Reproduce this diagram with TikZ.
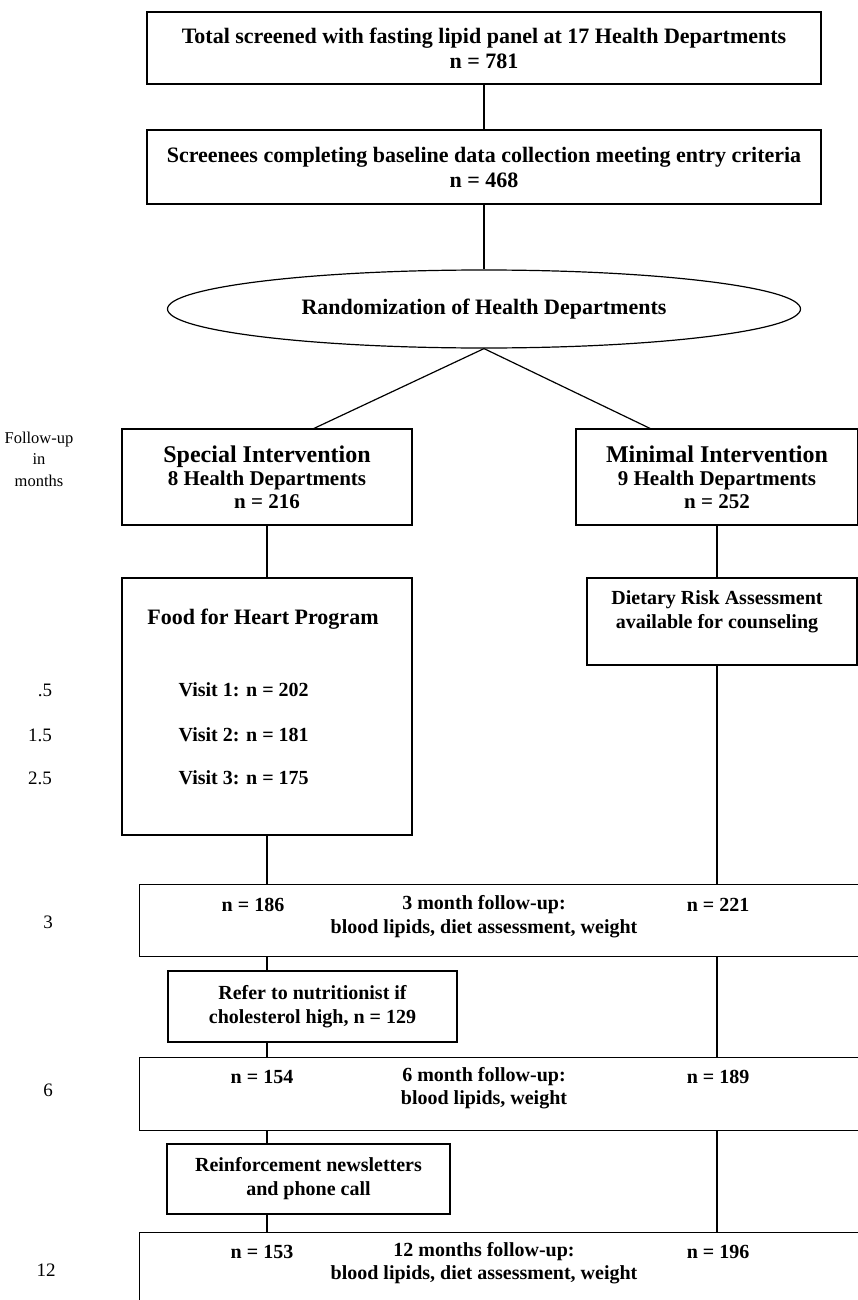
\documentclass[tikz,border=0pt]{standalone}
\usepackage{fontspec}
\setmainfont{Liberation Serif}
\usetikzlibrary{shapes.geometric}
\newcommand{\txtsz}{\fontsize{20}{24}\selectfont}
\newcommand{\topsz}{\fontsize{22}{25}\selectfont}
\newcommand{\subsz}{\fontsize{21}{23}\selectfont}
\newcommand{\bigsz}{\fontsize{24}{27}\selectfont}
\newcommand{\monsz}{\fontsize{19}{21.5}\selectfont}

\begin{document}
\begin{tikzpicture}[x=1pt,y=-1pt,line width=1.2pt,
    box/.style={draw, font=\txtsz\bfseries, align=center, inner sep=0pt},
    lbl/.style={font=\txtsz\bfseries, align=center, inner sep=0pt},
    mon/.style={font=\monsz, align=center, inner sep=0pt}]
    \clip (0,0) rectangle (858,1300);

    \node[box, font=\topsz\bfseries, minimum width=674pt, minimum height=72pt] (total) at (484,48)
        {Total screened with fasting lipid panel at 17 Health Departments\\n = 781};
    \node[box, font=\topsz\bfseries, minimum width=674pt, minimum height=74pt] (screen) at (484,167)
        {Screenees completing baseline data collection meeting entry criteria\\n = 468};
    \node[box, font=\topsz\bfseries, ellipse, minimum width=633pt, minimum height=78pt] (rand) at (484,309)
        {Randomization of Health Departments};

    \node[box, font=\subsz\bfseries, minimum width=290pt, minimum height=96pt] (special) at (267,477)
        {{\bigsz Special Intervention}\\8 Health Departments\\n = 216};
    \node[box, font=\subsz\bfseries, minimum width=282pt, minimum height=96pt] (minimal) at (717,477)
        {{\bigsz Minimal Intervention}\\9 Health Departments\\n = 252};

    % food for heart
    \node[box, minimum width=290pt, minimum height=257pt] (food) at (267,706.5) {};
    \node[lbl, font=\fontsize{22}{26}\selectfont\bfseries] (foodttl) at (263,619) {Food for Heart Program};
    \node[lbl, anchor=west] (visit1) at (178,690) {Visit 1: n = 202};
    \node[lbl, anchor=west] (visit2) at (178,735) {Visit 2: n = 181};
    \node[lbl, anchor=west] (visit3) at (178,778) {Visit 3: n = 175};

    \node[box, minimum width=270pt, minimum height=87pt] (diet) at (722,621.5) {};
    \node[lbl] (diettxt) at (717,612) {Dietary Risk Assessment\\available for counseling};

    % follow-up boxes
    \node[box, minimum width=761pt, minimum height=72pt, anchor=north west] (fu3) at (139,884) {};
    \node[lbl] (fu3a) at (253,905) {n = 186};
    \node[lbl] (fu3b) at (484,905) {3 month follow-up:};
    \node[lbl] (fu3c) at (718,905) {n = 221};
    \node[lbl] (fu3d) at (484,929) {blood lipids, diet assessment, weight};

    \node[box, minimum width=289pt, minimum height=71pt] (refer) at (312.5,1006.5)
        {Refer to nutritionist if\\cholesterol high, n = 129};

    \node[box, minimum width=761pt, minimum height=73pt, anchor=north west] (fu6) at (139,1057) {};
    \node[lbl] (fu6a) at (262,1077) {n = 154};
    \node[lbl] (fu6b) at (484,1077) {6 month follow-up:};
    \node[lbl] (fu6c) at (718,1077) {n = 189};
    \node[lbl] (fu6d) at (484,1100) {blood lipids, weight};

    \node[box, minimum width=283pt, minimum height=70pt] (reinf) at (308.5,1179)
        {Reinforcement newsletters\\and phone call};

    \node[box, minimum width=761pt, minimum height=100pt, anchor=north west] (fu12) at (139,1232) {};
    \node[lbl] (fu12a) at (262,1252) {n = 153};
    \node[lbl] (fu12b) at (484,1252) {12 months follow-up:};
    \node[lbl] (fu12c) at (718,1252) {n = 196};
    \node[lbl] (fu12d) at (484,1275) {blood lipids, diet assessment, weight};

    % months
    \node[mon, font=\fontsize{16.5}{21.5}\selectfont] (fuhead) at (39,459) {Follow-up\\in\\months};
    \node[mon] (m05) at (45,690) {.5};
    \node[mon] (m15) at (40,735) {1.5};
    \node[mon] (m25) at (40,778) {2.5};
    \node[mon] (m3) at (48,922) {3};
    \node[mon] (m6) at (48,1090) {6};
    \node[mon] (m12) at (46,1270) {12};

    \draw (total) -- (screen);
    \draw (screen) -- (rand);
    \draw (rand.south) -- ([xshift=47pt]special.north);
    \draw (rand.south) -- ([xshift=-67pt]minimal.north);
    \draw (special) -- (food);
    \draw (food.south) -- (food.south |- fu3.north);
    \draw (fu3.south -| food) -- (refer.north -| food);
    \draw (refer.south -| food) -- (fu6.north -| food);
    \draw (fu6.south -| food) -- (reinf.north -| food);
    \draw (reinf.south -| food) -- (fu12.north -| food);
    \draw (minimal.south) -- (minimal.south |- diet.north);
    \draw (diet.south -| minimal) -- (fu3.north -| minimal);
    \draw (fu3.south -| minimal) -- (fu6.north -| minimal);
    \draw (fu6.south -| minimal) -- (fu12.north -| minimal);
\end{tikzpicture}
\end{document}
